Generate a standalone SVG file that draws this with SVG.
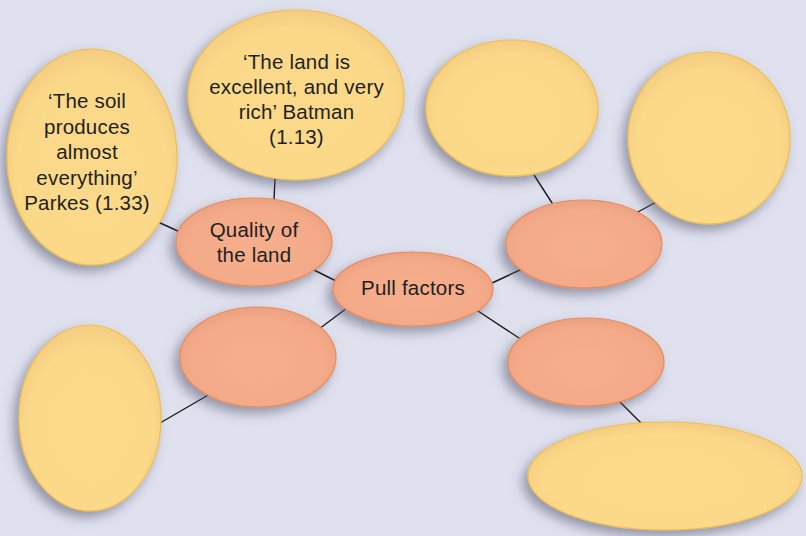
<svg xmlns="http://www.w3.org/2000/svg" width="806" height="536" viewBox="0 0 806 536">
  <defs>
    <filter id="shadow" x="-30%" y="-30%" width="160%" height="160%">
      <feDropShadow dx="-5" dy="6" stdDeviation="6" flood-color="#53556e" flood-opacity="0.55"/>
    </filter>
    <radialGradient id="gold" cx="50%" cy="55%" r="55%">
      <stop offset="0%" stop-color="#fdd98a"/>
      <stop offset="80%" stop-color="#fcd889"/>
      <stop offset="100%" stop-color="#f3cd82"/>
    </radialGradient>
    <radialGradient id="coral" cx="50%" cy="55%" r="55%">
      <stop offset="0%" stop-color="#f5ae8d"/>
      <stop offset="80%" stop-color="#f4aa88"/>
      <stop offset="100%" stop-color="#eba282"/>
    </radialGradient>
  </defs>
  <style>
    .quote { fill: url(#gold); stroke: #f2bf45; stroke-width: 1.2; filter: url(#shadow); }
    .factor { fill: url(#coral); stroke: #e98c5c; stroke-width: 1.2; filter: url(#shadow); }
    .link { stroke: #1a1a1a; stroke-width: 1.4; fill: none; }
    text { font-family: "Liberation Sans", Arial, sans-serif; font-size: 20.5px; fill: #231f20; text-anchor: middle; letter-spacing: 0.2px; }
  </style>

  <rect width="806" height="536" fill="#e0e1ee"/>

  <!-- connectors -->
  <g id="connectors">
    <line class="link" x1="158" y1="222" x2="180" y2="232"/>
    <line class="link" x1="275" y1="178" x2="274" y2="200"/>
    <line class="link" x1="312" y1="269" x2="338" y2="282"/>
    <line class="link" x1="490" y1="284" x2="522" y2="269"/>
    <line class="link" x1="534" y1="175" x2="554" y2="206"/>
    <line class="link" x1="636" y1="213" x2="660" y2="200"/>
    <line class="link" x1="347" y1="308" x2="315" y2="332"/>
    <line class="link" x1="210" y1="394" x2="160" y2="423"/>
    <line class="link" x1="478" y1="311" x2="522" y2="340"/>
    <line class="link" x1="618" y1="400" x2="643" y2="425"/>
  </g>

  <!-- quotation ellipses -->
  <g id="quote-soil">
    <ellipse class="quote" cx="92" cy="157" rx="85" ry="108"/>
    <text x="87" y="108">‘The soil</text>
    <text x="87" y="133.5">produces</text>
    <text x="87" y="159">almost</text>
    <text x="87" y="184.5">everything’</text>
    <text x="87" y="210">Parkes (1.33)</text>
  </g>
  <g id="quote-land">
    <ellipse class="quote" cx="296" cy="95" rx="108" ry="85"/>
    <text x="296.5" y="69">‘The land is</text>
    <text x="296.5" y="94">excellent, and very</text>
    <text x="296.5" y="119">rich’ Batman</text>
    <text x="296.5" y="143.5">(1.13)</text>
  </g>
  <g id="quote-top-right">
    <ellipse class="quote" cx="512" cy="108" rx="86" ry="68"/>
  </g>
  <g id="quote-far-right">
    <ellipse class="quote" cx="709" cy="138" rx="81" ry="86"/>
  </g>
  <g id="quote-bottom-left">
    <ellipse class="quote" cx="90" cy="418" rx="71" ry="93"/>
  </g>
  <g id="quote-bottom-right">
    <ellipse class="quote" cx="665" cy="476" rx="137" ry="54"/>
  </g>

  <!-- factor ellipses -->
  <g id="factor-quality">
    <ellipse class="factor" cx="254" cy="242" rx="78" ry="44"/>
    <text x="254" y="237">Quality of</text>
    <text x="254" y="262">the land</text>
  </g>
  <g id="pull-factors">
    <ellipse class="factor" cx="413" cy="289" rx="80" ry="37"/>
    <text x="413" y="295">Pull factors</text>
  </g>
  <g id="factor-right-top">
    <ellipse class="factor" cx="584" cy="244" rx="78" ry="44"/>
  </g>
  <g id="factor-left-bottom">
    <ellipse class="factor" cx="258" cy="357" rx="78" ry="50"/>
  </g>
  <g id="factor-right-bottom">
    <ellipse class="factor" cx="586" cy="362" rx="78" ry="44"/>
  </g>
</svg>
